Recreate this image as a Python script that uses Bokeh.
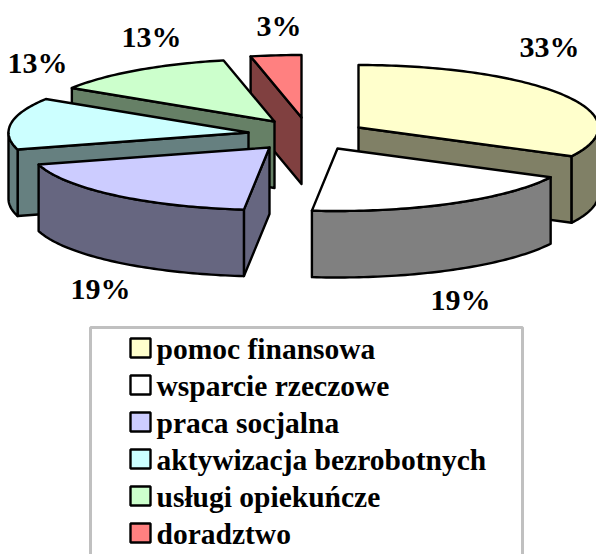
import math
from bokeh.plotting import figure
from bokeh.models import Range1d
from bokeh.core.properties import value
from bokeh.embed import file_html
from bokeh.resources import INLINE

categories = ["pomoc finansowa", "wsparcie rzeczowe", "praca socjalna",
              "aktywizacja bezrobotnych", "usługi opiekuńcze", "doradztwo"]
shares = [32.6, 19.1, 18.9, 13.4, 12.6, 3.4]
face_colors = ["#FFFFCC", "#FFFFFF", "#CCCCFF", "#CCFFFF", "#CCFFCC", "#FF8080"]
wall_colors = ["#808066", "#808080", "#666680", "#668080", "#668066", "#804040"]

# layout of the exploded 3-D pie (page pixels)
apex = [(358, 127), (337, 148), (269, 147), (248, 132), (274, 121), (301, 117)]
label_pos = [(519, 56), (430, 309), (70, 298), (7, 72), (121, 46), (256, 35)]
RX, RY, DEPTH = 240, 62.5, 66.5
TEXT_DY = -10.5
LEGEND_DY = -9
STEPS = 80
draw_order = [5, 4, 3, 2, 0, 1]

p = figure(width=596, height=554, x_range=Range1d(0, 596), y_range=Range1d(554, 0),
           x_axis_type=None, y_axis_type=None, toolbar_location=None,
           output_backend="svg", min_border=0, outline_line_color=None,
           background_fill_color="white", border_fill_color="white")

LW = 2.4


def rim(cx, cy, t0, t1, dy=0.0):
    n = max(2, int(STEPS * abs(t1 - t0) / 90) + 1)
    ts = [t0 + (t1 - t0) * i / (n - 1) for i in range(n)]
    return ([cx + RX * math.sin(math.radians(t)) for t in ts],
            [cy - RY * math.cos(math.radians(t)) + dy for t in ts])


def wall(xs, ys, color):
    p.patch(xs + xs[::-1], ys + [y + DEPTH for y in ys[::-1]],
            fill_color=color, line_color="black", line_width=LW, line_join="round")


edges = [0.0]
for s in shares:
    edges.append(edges[-1] + s * 3.6)

for i in draw_order:
    cx, cy = apex[i]
    t0, t1 = edges[i], edges[i + 1]
    wc = wall_colors[i]
    if t0 >= 180:
        xs, ys = rim(cx, cy, t0, t0)
        wall([cx, xs[0]], [cy, ys[0]], wc)
    if t1 <= 180:
        xs, ys = rim(cx, cy, t1, t1)
        wall([cx, xs[0]], [cy, ys[0]], wc)
    a, b = max(t0, 90), min(t1, 270)
    if a < b:
        xs, ys = rim(cx, cy, a, b)
        wall(xs, ys, wc)
    xs, ys = rim(cx, cy, t0, t1)
    p.patch([cx] + xs, [cy] + ys, fill_color=face_colors[i], line_color="black",
            line_width=LW, line_join="round")
    lx, ly = label_pos[i]
    p.text([lx], [ly + TEXT_DY], text=[f"{round(shares[i])}%"], text_font=value("Liberation Serif"),
           text_font_style="bold", text_font_size="30px", text_color="black",
           text_align="left", text_baseline="alphabetic")

# legend
p.quad(left=[90], right=[522], top=[327], bottom=[600], fill_color="white",
       line_color="#C0C0C0", line_width=3)
for k, name in enumerate(categories):
    top = 338 + 37 * k
    p.quad(left=[130], right=[150], top=[top], bottom=[top + 19], fill_color=face_colors[k],
           line_color="black", line_width=LW)
    p.text([156], [357 + 37 * k + LEGEND_DY], text=[name], text_font=value("Liberation Serif"),
           text_font_style="bold", text_font_size="29.5px", text_color="black",
           text_align="left", text_baseline="alphabetic")

open("out.html", "w").write(file_html(p, INLINE))
